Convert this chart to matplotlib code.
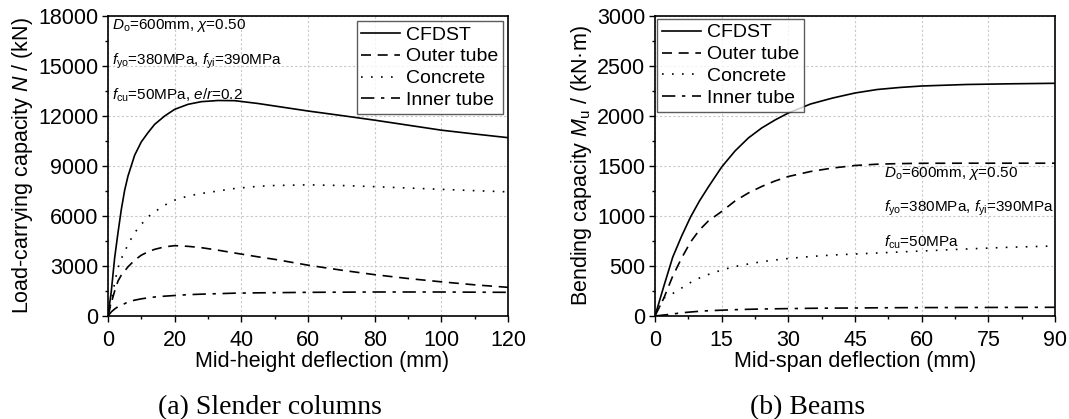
import matplotlib
matplotlib.use("Agg")
import matplotlib.pyplot as plt
from matplotlib.ticker import MultipleLocator

plt.rcParams['font.family'] = ['Liberation Sans', 'DejaVu Sans']
plt.rcParams['mathtext.fontset'] = 'custom'
plt.rcParams['mathtext.rm'] = 'Liberation Sans'
plt.rcParams['mathtext.it'] = 'Liberation Sans:italic'
plt.rcParams['mathtext.bf'] = 'Liberation Sans:bold'

# (a) slender columns
defl_col = [0, 1, 2, 3, 4, 5, 6, 8, 10, 12, 14, 17, 20, 24, 28, 33, 38, 45, 50, 60, 70, 80, 90, 100, 110, 120]
col_cfdst = [0, 1500, 3500, 5000, 6400, 7550, 8400, 9650, 10450, 11000, 11500, 12000, 12400, 12700, 12860, 12930,
             12920, 12750, 12600, 12300, 12030, 11750, 11450, 11150, 10920, 10700]
col_outer = [0, 800, 1500, 2100, 2450, 2700, 2950, 3350, 3650, 3850, 4000, 4150, 4220, 4180, 4100, 3950,
             3780, 3550, 3400, 3050, 2750, 2480, 2250, 2050, 1870, 1720]
col_concrete = [0, 900, 2000, 2900, 3450, 3850, 4300, 5000, 5500, 5950, 6250, 6650, 6950, 7200, 7350, 7500,
                7650, 7780, 7830, 7870, 7830, 7760, 7680, 7600, 7520, 7450]
col_inner = [0, 250, 420, 560, 650, 740, 850, 950, 1030, 1090, 1140, 1190, 1230, 1280, 1310, 1340,
             1370, 1390, 1400, 1420, 1430, 1440, 1440, 1440, 1430, 1420]

# (b) beams
defl_beam = [0, 2, 4, 6, 8, 10, 12, 15, 18, 21, 24, 27, 30, 35, 40, 45, 50, 55, 60, 70, 80, 90]
beam_cfdst = [0, 300, 590, 800, 990, 1150, 1290, 1490, 1650, 1780, 1880, 1960, 2030, 2120, 2180, 2230,
              2265, 2285, 2300, 2315, 2322, 2327]
beam_outer = [0, 180, 400, 580, 740, 860, 950, 1045, 1150, 1230, 1295, 1350, 1395, 1445, 1480, 1505,
              1518, 1524, 1527, 1528, 1528, 1528]
beam_concrete = [0, 180, 225, 280, 335, 380, 415, 460, 495, 520, 543, 560, 575, 595, 610, 620,
                 630, 640, 650, 670, 688, 700]
beam_inner = [0, 10, 20, 32, 40, 47, 53, 58, 63, 67, 70, 72, 74, 77, 79, 80, 82, 83, 84, 85, 86, 87]

labels = ['CFDST', 'Outer tube', 'Concrete', 'Inner tube']
styles = ['-', (0, (6, 4)), (0, (1, 5)), (0, (8, 4, 2, 4))]

fig = plt.figure(figsize=(10.69, 4.19), dpi=100)
ax1 = fig.add_axes([108 / 1069, 103 / 419, 400 / 1069, 300 / 419])
ax2 = fig.add_axes([655 / 1069, 103 / 419, 400 / 1069, 300 / 419])


def style_axes(ax, xmaj, ymaj):
    ax.xaxis.set_major_locator(MultipleLocator(xmaj))
    ax.xaxis.set_minor_locator(MultipleLocator(xmaj / 2))
    ax.yaxis.set_major_locator(MultipleLocator(ymaj))
    ax.yaxis.set_minor_locator(MultipleLocator(ymaj / 2))
    ax.grid(True, which='major', color='#c8c8c8', linestyle=(0, (2, 2)), linewidth=0.8)
    ax.set_axisbelow(True)
    ax.tick_params(which='major', direction='out', length=4, width=1.0, labelsize=15.5)
    ax.tick_params(axis='x', which='major', pad=6)
    ax.tick_params(axis='y', which='major', pad=3)
    ax.tick_params(which='minor', direction='out', length=2.5, width=1.0)
    for s in ax.spines.values():
        s.set_linewidth(1.2)


for y, lab, ls in zip([col_cfdst, col_outer, col_concrete, col_inner], labels, styles):
    ax1.plot(defl_col, y, color='black', linestyle=ls, linewidth=1.2, label=lab)
for y, lab, ls in zip([beam_cfdst, beam_outer, beam_concrete, beam_inner], labels, styles):
    ax2.plot(defl_beam, y, color='black', linestyle=ls, linewidth=1.2, label=lab)

ax1.set_xlim(0, 120)
ax1.set_ylim(0, 18000)
style_axes(ax1, 20, 3000)
ax1.set_xlabel('Mid-height deflection (mm)', fontsize=15.5, labelpad=0, x=0.535)
ax1.set_ylabel(r'Load-carrying capacity $N$ / (kN)', fontsize=15.5, labelpad=2)

ax2.set_xlim(0, 90)
ax2.set_ylim(0, 3000)
style_axes(ax2, 15, 500)
ax2.set_xlabel('Mid-span deflection (mm)', fontsize=15.5, labelpad=0)
ax2.set_ylabel(r'Bending capacity $M_{\rm u}$ / (kN·m)', fontsize=15.5, labelpad=2)

legkw = dict(fontsize=14, frameon=True, fancybox=False, handlelength=2.0, handletextpad=0.3,
             labelspacing=0.22, borderpad=0.25, borderaxespad=0.0)
lg1 = ax1.legend(loc='upper right', bbox_to_anchor=(0.988, 0.983), **legkw)
lg2 = ax2.legend(loc='upper left', bbox_to_anchor=(0.005, 0.99), **legkw)
for lg in (lg1, lg2):
    lg.get_frame().set_edgecolor('#333333')
    lg.get_frame().set_linewidth(1.0)

ann = 11
ax1.text(1.3, 17200, r'$D_{\rm o}$=600mm, $\chi$=0.50', fontsize=ann, va='baseline')
ax1.text(1.3, 15060, r'$f_{\rm yo}$=380MPa, $f_{\rm yi}$=390MPa', fontsize=ann, va='baseline')
ax1.text(1.3, 12960, r'$f_{\rm cu}$=50MPa, $e/r$=0.2', fontsize=ann, va='baseline')

ax2.text(51.5, 1393, r'$D_{\rm o}$=600mm, $\chi$=0.50', fontsize=ann, va='baseline')
ax2.text(51.5, 1040, r'$f_{\rm yo}$=380MPa, $f_{\rm yi}$=390MPa', fontsize=ann, va='baseline')
ax2.text(51.5, 690, r'$f_{\rm cu}$=50MPa', fontsize=ann, va='baseline')

fig.text(270 / 1069, 1 - 414 / 419, '(a) Slender columns', fontsize=20, family='Liberation Serif',
         ha='center', va='baseline')
fig.text(808 / 1069, 1 - 414 / 419, '(b) Beams', fontsize=20, family='Liberation Serif',
         ha='center', va='baseline')

fig.savefig('out.png', dpi=100)
